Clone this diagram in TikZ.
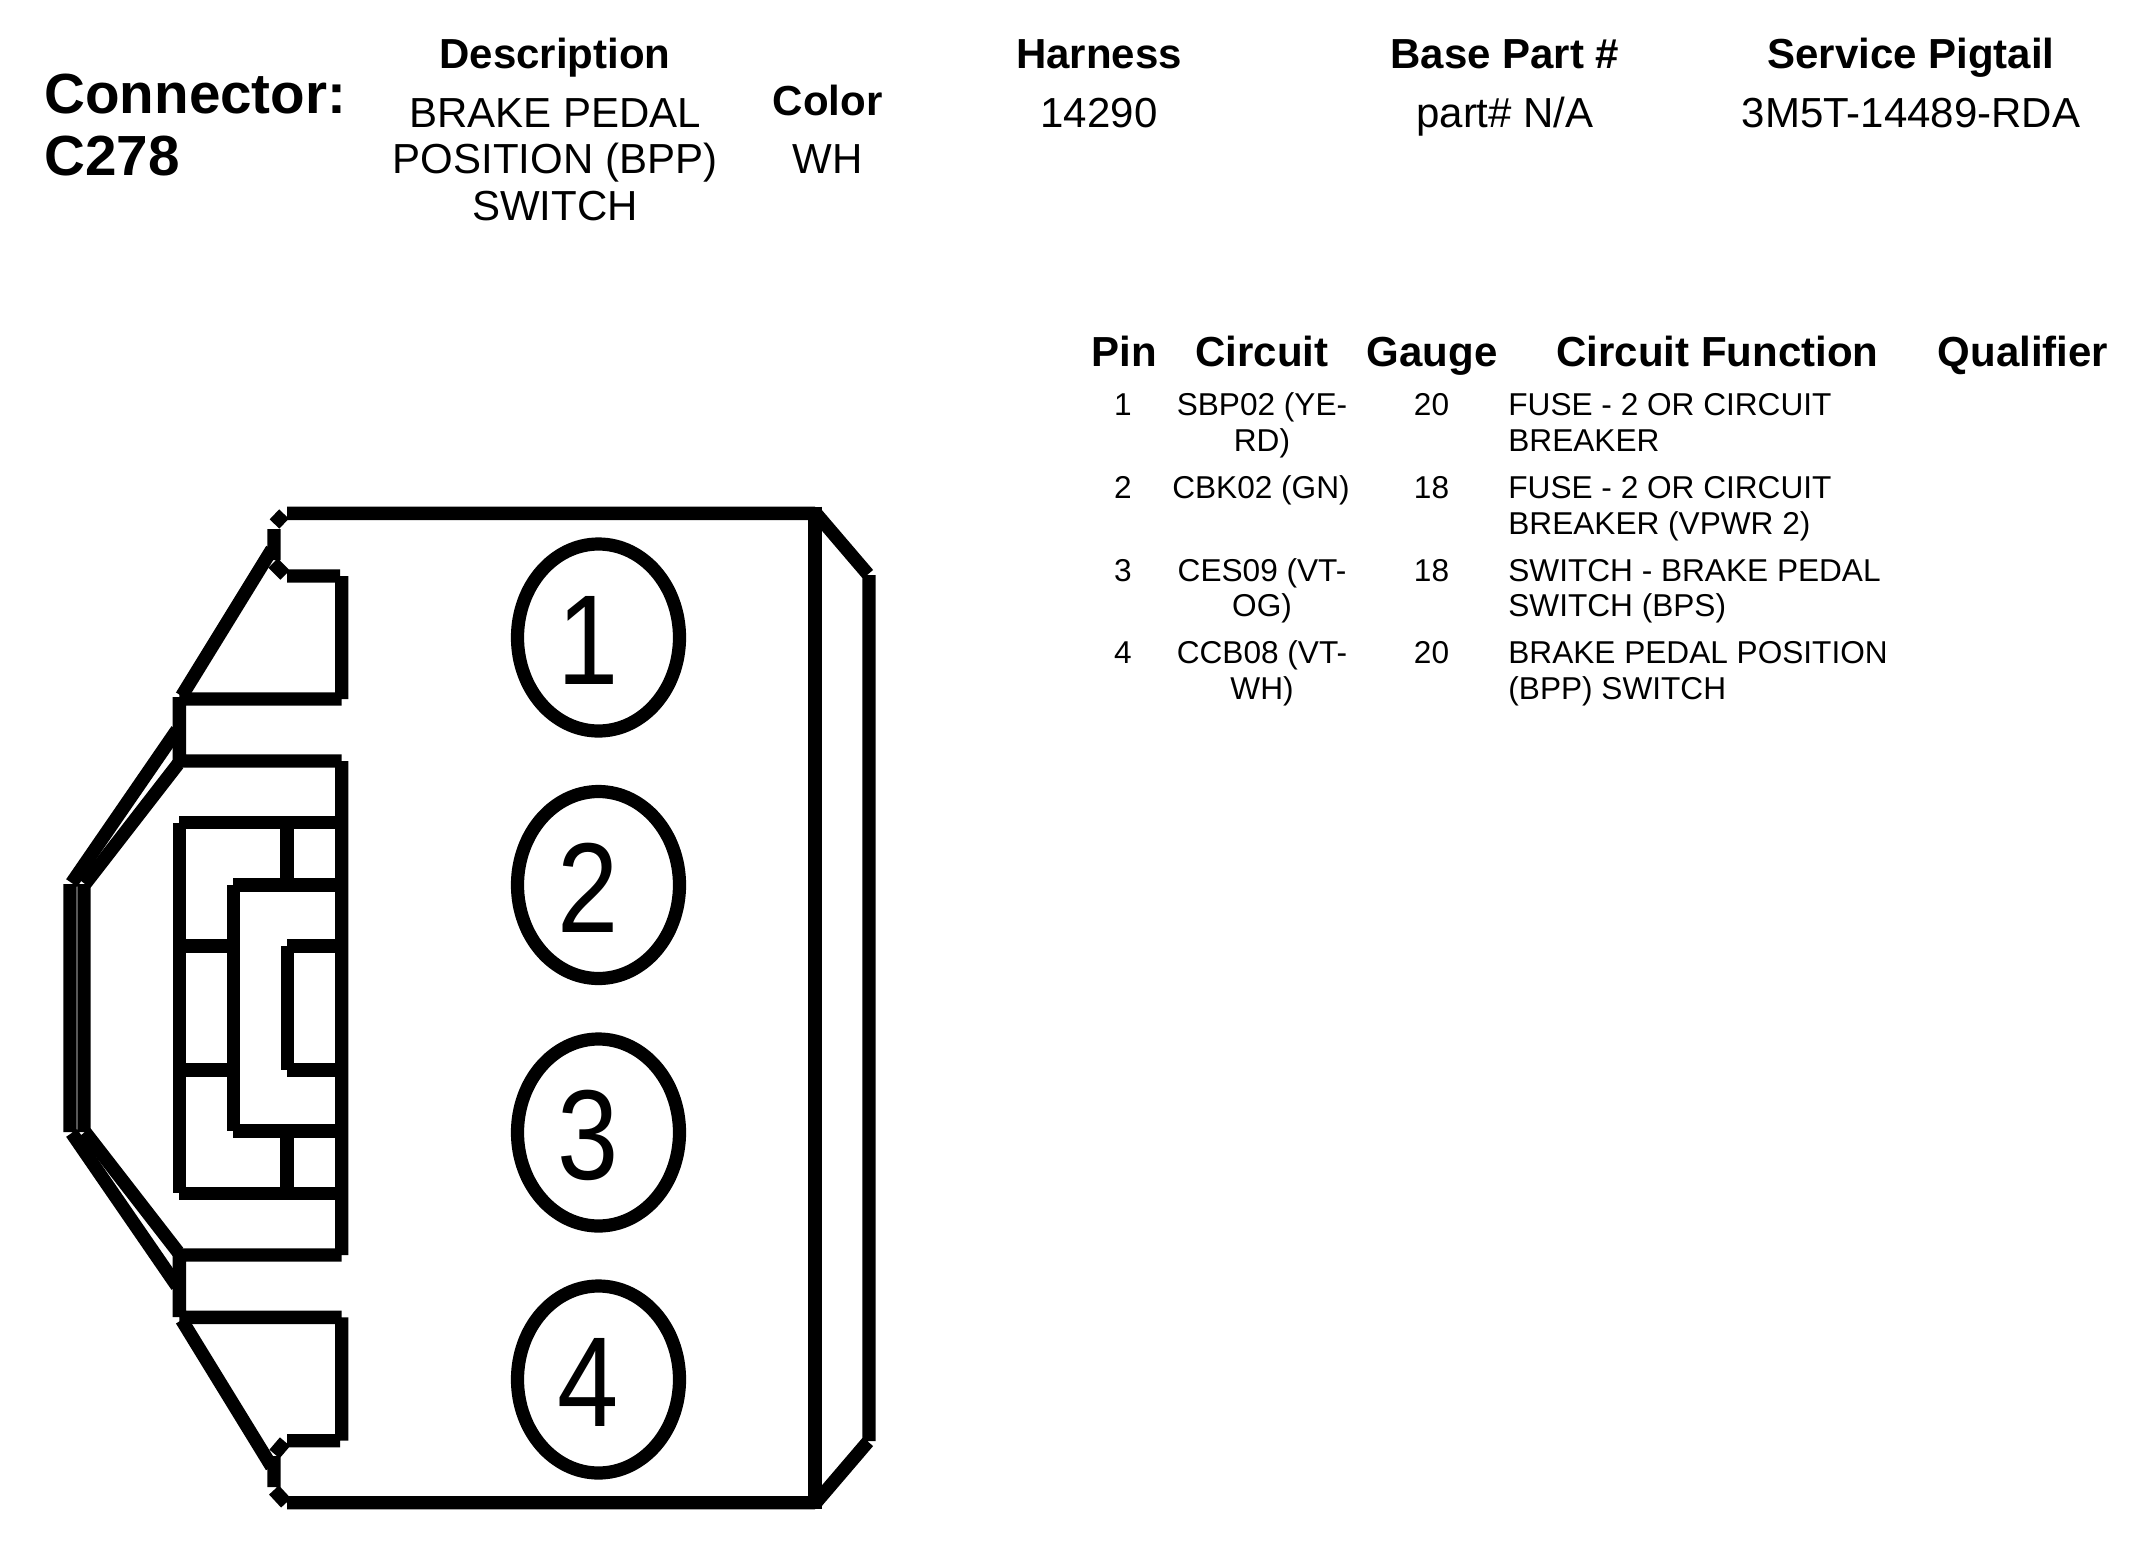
\documentclass[tikz,border=0pt]{standalone}
\usepackage{fontspec}
\setmainfont{Liberation Sans}
\usetikzlibrary{shapes.geometric}
\tikzset{
  x=0.5pt,y=-0.5pt,
  outline/.style={line width=6.7pt,line cap=butt,line join=miter,black},
  cavity/.style={ellipse,draw=black,line width=6.6pt,minimum width=81pt,minimum height=93.5pt,inner sep=0pt,outer sep=0pt},
  digit/.style={anchor=base,inner sep=0pt,font=\fontsize{64}{64}\selectfont},
  title/.style={anchor=base west,inner sep=0pt,font=\bfseries\fontsize{28.3}{32.3}\selectfont,align=left},
  head/.style={anchor=base,inner sep=0pt,font=\bfseries\fontsize{21}{24}\selectfont},
  val/.style={anchor=base,inner sep=0pt,font=\fontsize{21}{23.35}\selectfont,align=center},
  cell/.style={anchor=base,inner sep=0pt,font=\fontsize{15.8}{17.5}\selectfont,align=center},
  fn/.style={anchor=base west,inner sep=0pt,font=\fontsize{15.8}{17.5}\selectfont,align=left},
}
\newcommand{\narrowdigit}[1]{\scalebox{0.86}[1]{#1}}
\begin{document}
\begin{tikzpicture}
\useasboundingbox (0,0) rectangle (2144,1548);
\fill[white] (0,0) rectangle (2144,1548);
% connector body, upper half
\draw[outline]
  (815,513.3) -- (287,513.3)
  (284,514) -- (274.5,524)
  (274,529) -- (274,560)
  (273,563) -- (285,575)
  (287,576) -- (340,576)
  (341.7,576) -- (341.7,699)
  (341.7,699) -- (179.3,699)
  (179.3,697) -- (179.3,767)
  (179.3,761) -- (341.7,761)
  (341.7,761) -- (341.7,1255);
% connector body, lower half
\draw[outline]
  (341.7,1255) -- (179.3,1255)
  (179.3,1249) -- (179.3,1317)
  (179.3,1317.3) -- (341.7,1317.3)
  (341.7,1317.3) -- (341.7,1440.7)
  (340,1440.7) -- (287,1440.7)
  (285,1441.7) -- (274.5,1454)
  (274,1456) -- (274,1487)
  (274,1490) -- (286,1503)
  (287,1502.7) -- (815,1502.7);
\draw[outline] (815,506.6) -- (815,1509.4);
\draw[outline]
  (816.7,514.3) -- (868,574.3)
  (869,575) -- (869,1441)
  (868,1441.7) -- (816.7,1501.7);
\draw[outline] (272,549.3) -- (181.7,696);
\draw[outline] (271.7,1466.7) -- (181.7,1320);
% left hood
\draw[outline]
  (177,730) -- (71.7,883)
  (70,884) -- (70,1132)
  (71.7,1133) -- (177,1286);
\draw[outline]
  (178,764) -- (85,884)
  (84,884) -- (84,1132)
  (85,1132) -- (178,1252);
% key
\draw[outline]
  (341.7,822.3) -- (179.3,822.3)
  (179.3,823) -- (179.3,1193)
  (179.3,1193.7) -- (341.7,1193.7);
\draw[outline] (287,822) -- (287,885);
\draw[outline] (287,1131) -- (287,1194);
\draw[outline]
  (341.7,885) -- (233.3,885)
  (233.3,885) -- (233.3,1131)
  (233.3,1131) -- (341.7,1131);
\draw[outline] (179.3,946) -- (233.3,946);
\draw[outline] (179.3,1070) -- (233.3,1070);
\draw[outline]
  (341.7,946) -- (287.3,946)
  (287.3,946) -- (287.3,1070)
  (287.3,1070) -- (341.7,1070);
% cavities
\node[cavity] (pin1) at (598.5,637.5) {};
\node[cavity] (pin2) at (598.5,885) {};
\node[cavity] (pin3) at (598.5,1132.5) {};
\node[cavity] (pin4) at (598.5,1379.5) {};
\node[digit] (d1) at (588,684.5) {\narrowdigit{1}};
\node[digit] (d2) at (588,932) {\narrowdigit{2}};
\node[digit] (d3) at (588,1179.5) {\narrowdigit{3}};
\node[digit] (d4) at (588,1426.5) {\narrowdigit{4}};
% heading
\node[title] (conn) at (44,113) {Connector:};
\node[title] (connid) at (44,175) {C278};
\node[head] (hdesc) at (555,68) {Description};
\node[val] (desc1) at (555,127) {BRAKE PEDAL};
\node[val] (desc2) at (555,173) {POSITION (BPP)};
\node[val] (desc3) at (555,220) {SWITCH};
\node[head] (hcolor) at (827.5,115) {Color};
\node[val] (color) at (827.5,173) {WH};
\node[head] (hharn) at (1099,68) {Harness};
\node[val] (harn) at (1099,127) {14290};
\node[head] (hbase) at (1505,68) {Base Part \#};
\node[val] (base) at (1505,127) {part\# N/A};
\node[head] (hserv) at (1911,68) {Service Pigtail};
\node[val] (serv) at (1911,127) {3M5T-14489-RDA};
% table header
\node[head] (tpin) at (1124.5,366) {Pin};
\node[head] (tcir) at (1262,366) {Circuit};
\node[head] (tgau) at (1432,366) {Gauge};
\node[head] (tfun) at (1717.5,366) {Circuit Function};
\node[head] (tqua) at (2023,366) {Qualifier};
% rows
\node[cell] (p1) at (1123,415.6) {1};
\node[cell] (c1a) at (1262,415.6) {SBP02 (YE-};
\node[cell] (c1b) at (1262,451) {RD)};
\node[cell] (g1) at (1431.5,415.6) {20};
\node[fn] (f1a) at (1508,415.6) {FUSE - 2 OR CIRCUIT};
\node[fn] (f1b) at (1508,451) {BREAKER};
\node[cell] (p2) at (1123,498) {2};
\node[cell] (c2) at (1261,498) {CBK02 (GN)};
\node[cell] (g2) at (1431.5,498) {18};
\node[fn] (f2a) at (1508,498) {FUSE - 2 OR CIRCUIT};
\node[fn] (f2b) at (1508,534) {BREAKER (VPWR 2)};
\node[cell] (p3) at (1123,581) {3};
\node[cell] (c3a) at (1262,581) {CES09 (VT-};
\node[cell] (c3b) at (1262,616.5) {OG)};
\node[cell] (g3) at (1431.5,581) {18};
\node[fn] (f3a) at (1508,581) {SWITCH - BRAKE PEDAL};
\node[fn] (f3b) at (1508,616.5) {SWITCH (BPS)};
\node[cell] (p4) at (1123,663) {4};
\node[cell] (c4a) at (1262,663) {CCB08 (VT-};
\node[cell] (c4b) at (1262,699) {WH)};
\node[cell] (g4) at (1431.5,663) {20};
\node[fn] (f4a) at (1508,663) {BRAKE PEDAL POSITION};
\node[fn] (f4b) at (1508,699) {(BPP) SWITCH};
\end{tikzpicture}
\end{document}
